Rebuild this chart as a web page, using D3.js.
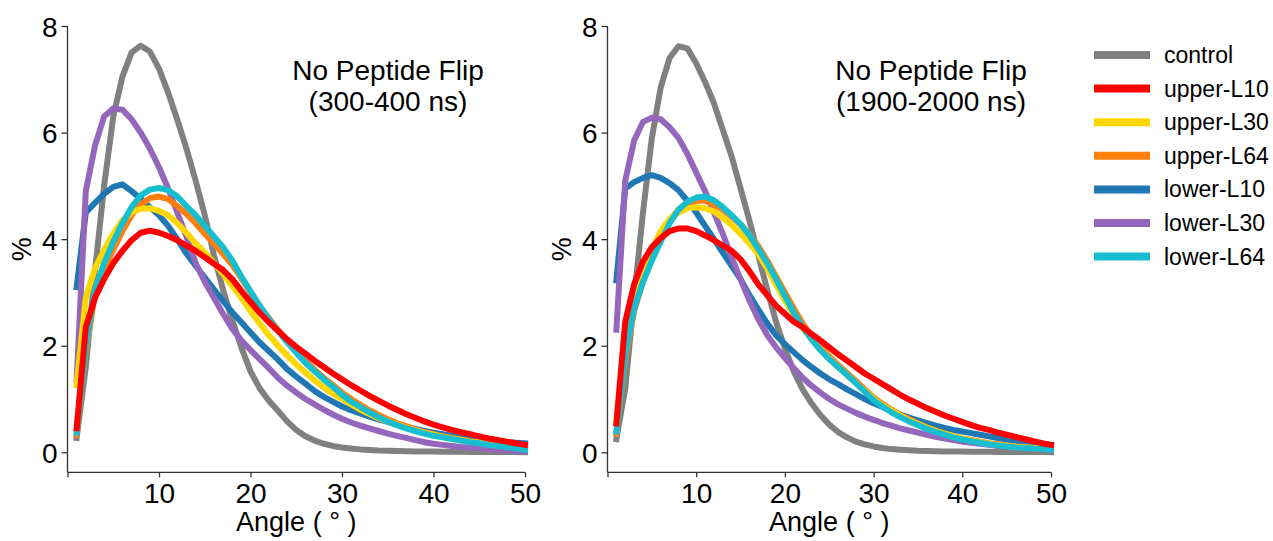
<!DOCTYPE html>
<html><head><meta charset="utf-8">
<script src="https://cdn.jsdelivr.net/npm/d3@7"></script>
<style>
body{margin:0;background:#fff;}
svg{display:block;font-family:"Liberation Sans",Arial,Helvetica,sans-serif;}
</style></head>
<body><svg id="chart" width="1273" height="541"></svg>
<script>
const angles = d3.range(1, 51);
const seriesNames = ["control","upper-L10","upper-L30","upper-L64","lower-L10","lower-L30","lower-L64"];
const seriesColors = ["#808080","#ff0000","#ffd700","#ff7f0e","#1f77b4","#9467bd","#17becf"];
const xTicks = [0,10,20,30,40,50];
const xTickLabels = ["","10","20","30","40","50"];
const yTicks = [0,2,4,6,8];
const panelTitles = [["No Peptide Flip","(300-400 ns)"],["No Peptide Flip","(1900-2000 ns)"]];

// Left panel (300-400 ns)
const controlA = [0.27,1.6,3.4,5.0,6.3,7.05,7.5,7.63,7.52,7.2,6.75,6.24,5.7,5.1,4.45,3.7,3.05,2.48,1.97,1.52,1.2,0.97,0.78,0.58,0.42,0.3,0.22,0.16,0.12,0.09,0.07,0.055,0.045,0.035,0.03,0.025,0.02,0.017,0.015,0.013,0.011,0.01,0.009,0.008,0.007,0.006,0.005,0.004,0.004,0.003];
const upperL10A = [0.45,2.35,2.9,3.25,3.55,3.78,3.98,4.12,4.16,4.12,4.06,3.98,3.88,3.78,3.66,3.54,3.42,3.25,3.03,2.82,2.62,2.44,2.28,2.12,1.98,1.85,1.72,1.6,1.48,1.37,1.26,1.16,1.06,0.97,0.88,0.8,0.72,0.65,0.58,0.52,0.47,0.42,0.38,0.34,0.3,0.26,0.23,0.2,0.17,0.14];
const upperL30A = [1.26,2.9,3.45,3.8,4.1,4.35,4.5,4.57,4.58,4.53,4.45,4.3,4.12,3.92,3.75,3.55,3.35,3.12,2.9,2.65,2.42,2.2,2.0,1.82,1.65,1.5,1.35,1.22,1.1,1.0,0.9,0.8,0.72,0.64,0.58,0.52,0.46,0.41,0.37,0.33,0.29,0.26,0.23,0.2,0.18,0.16,0.14,0.12,0.11,0.1];
const upperL64A = [0.33,1.9,2.95,3.45,3.8,4.15,4.45,4.65,4.77,4.8,4.75,4.62,4.47,4.3,4.1,3.92,3.72,3.52,3.27,3.0,2.75,2.52,2.3,2.1,1.9,1.72,1.55,1.4,1.26,1.12,1.0,0.89,0.79,0.7,0.62,0.55,0.49,0.43,0.38,0.34,0.3,0.27,0.24,0.21,0.19,0.16,0.14,0.12,0.1,0.08];
const lowerL10A = [3.1,4.5,4.68,4.85,4.98,5.03,4.9,4.76,4.6,4.45,4.25,4.0,3.73,3.5,3.28,3.06,2.84,2.63,2.44,2.25,2.06,1.9,1.74,1.56,1.42,1.29,1.15,1.04,0.95,0.86,0.79,0.73,0.67,0.62,0.57,0.52,0.48,0.44,0.4,0.37,0.34,0.31,0.28,0.26,0.23,0.22,0.2,0.19,0.18,0.17];
const lowerL30A = [1.36,4.9,5.75,6.3,6.45,6.43,6.25,6.0,5.7,5.35,4.95,4.5,4.05,3.55,3.2,2.9,2.6,2.32,2.1,1.92,1.75,1.58,1.4,1.25,1.12,1.0,0.9,0.8,0.71,0.63,0.56,0.5,0.45,0.4,0.35,0.31,0.27,0.23,0.19,0.16,0.14,0.12,0.1,0.085,0.07,0.06,0.05,0.04,0.03,0.02];
const lowerL64A = [0.37,2.0,3.05,3.55,3.95,4.3,4.6,4.82,4.93,4.96,4.92,4.8,4.62,4.45,4.25,4.05,3.85,3.6,3.3,3.02,2.75,2.5,2.28,2.07,1.87,1.68,1.52,1.37,1.23,1.08,0.95,0.85,0.75,0.66,0.58,0.51,0.45,0.4,0.35,0.31,0.28,0.25,0.22,0.19,0.17,0.14,0.12,0.1,0.07,0.05];

// Right panel (1900-2000 ns)
const controlB = [0.25,1.2,2.9,4.5,5.9,6.85,7.4,7.62,7.58,7.3,6.95,6.55,6.05,5.55,4.95,4.35,3.7,3.05,2.45,1.95,1.52,1.18,0.92,0.7,0.52,0.38,0.28,0.2,0.15,0.11,0.08,0.06,0.05,0.04,0.03,0.025,0.02,0.017,0.015,0.013,0.011,0.01,0.009,0.008,0.007,0.006,0.005,0.004,0.004,0.003];
const upperL10B = [0.54,2.45,3.15,3.58,3.85,4.02,4.15,4.2,4.2,4.15,4.07,3.98,3.88,3.78,3.62,3.4,3.15,2.95,2.75,2.6,2.45,2.35,2.22,2.1,1.97,1.84,1.72,1.6,1.48,1.38,1.28,1.18,1.08,0.99,0.91,0.83,0.76,0.69,0.63,0.57,0.51,0.46,0.42,0.37,0.33,0.29,0.25,0.21,0.17,0.14];
const upperL30B = [0.6,2.0,2.8,3.35,3.8,4.15,4.38,4.5,4.58,4.6,4.58,4.52,4.4,4.27,4.1,3.92,3.72,3.45,3.15,2.85,2.58,2.33,2.12,1.93,1.76,1.6,1.45,1.3,1.15,1.0,0.88,0.78,0.69,0.6,0.53,0.46,0.4,0.35,0.3,0.26,0.22,0.19,0.16,0.14,0.12,0.1,0.09,0.08,0.07,0.06];
const upperL64B = [0.35,1.75,2.65,3.2,3.65,4.05,4.35,4.55,4.67,4.72,4.72,4.65,4.55,4.42,4.28,4.08,3.87,3.6,3.3,3.0,2.7,2.42,2.18,1.98,1.8,1.64,1.49,1.34,1.18,1.03,0.91,0.8,0.7,0.62,0.54,0.47,0.41,0.35,0.3,0.26,0.23,0.2,0.17,0.15,0.13,0.11,0.1,0.08,0.07,0.06];
const lowerL10B = [3.23,4.95,5.07,5.15,5.2,5.15,5.05,4.92,4.72,4.5,4.25,4.0,3.75,3.5,3.25,2.95,2.68,2.42,2.2,2.03,1.88,1.73,1.6,1.48,1.37,1.28,1.18,1.09,1.0,0.92,0.85,0.78,0.71,0.65,0.6,0.55,0.5,0.46,0.42,0.39,0.36,0.33,0.3,0.27,0.24,0.22,0.2,0.18,0.16,0.14];
const lowerL30B = [2.3,5.1,5.85,6.2,6.28,6.25,6.1,5.9,5.6,5.25,4.9,4.5,4.1,3.65,3.25,2.85,2.5,2.2,1.97,1.77,1.58,1.4,1.25,1.12,1.0,0.9,0.82,0.74,0.67,0.61,0.55,0.5,0.45,0.41,0.37,0.33,0.29,0.26,0.23,0.2,0.18,0.16,0.14,0.12,0.11,0.1,0.08,0.07,0.06,0.05];
const lowerL64B = [0.39,1.85,2.7,3.2,3.6,3.95,4.3,4.55,4.7,4.78,4.8,4.73,4.6,4.45,4.28,4.07,3.82,3.55,3.25,2.93,2.62,2.35,2.12,1.92,1.75,1.6,1.45,1.3,1.14,0.98,0.86,0.75,0.66,0.58,0.51,0.44,0.38,0.33,0.28,0.24,0.21,0.18,0.15,0.13,0.11,0.09,0.08,0.07,0.06,0.05];

const panelData = [
  [controlA, upperL10A, upperL30A, upperL64A, lowerL10A, lowerL30A, lowerL64A],
  [controlB, upperL10B, upperL30B, upperL64B, lowerL10B, lowerL30B, lowerL64B]
];

const svg = d3.select("#chart");
const panels = [
  {x0: 67.5, x1: 525, titleX: 388},
  {x0: 607.5, x1: 1051, titleX: 931}
];
const yTop = 26, yBot = 472.3;
const drawOrder = [0, 4, 5, 3, 2, 6, 1];
const axisColor = "#333";

panels.forEach((p, pi) => {
  const x = d3.scaleLinear().domain([0, 50]).range([p.x0, p.x1]);
  const y = d3.scaleLinear().domain([-0.375, 8]).range([yBot, yTop]);
  const g = svg.append("g");

  const xa = g.append("g").attr("transform", `translate(0,${yBot})`)
    .call(d3.axisBottom(x).tickValues(xTicks).tickFormat((d, i) => xTickLabels[i]).tickSize(5).tickPadding(6));
  const ya = g.append("g").attr("transform", `translate(${p.x0},0)`)
    .call(d3.axisLeft(y).tickValues(yTicks).tickFormat(d3.format("d")).tickSize(6).tickPadding(4));
  [xa, ya].forEach(a => {
    a.select(".domain").attr("stroke", axisColor).attr("stroke-width", 1.3);
    a.selectAll(".tick line").attr("stroke", axisColor).attr("stroke-width", 1.3);
    a.selectAll(".tick text").attr("fill", "#000").style("font-size", "28px")
      .style("font-family", '"Liberation Sans",Arial,sans-serif');
  });
  ya.select(".domain").attr("d", `M0,${yTop}V${yBot}`);
  xa.select(".domain").attr("d", `M${p.x0},0H${p.x1}`);
  ya.selectAll(".tick text").attr("dy", "0.36em");

  const line = d3.line().x((d, i) => x(angles[i])).y(d => y(d));
  drawOrder.forEach(si => {
    g.append("path").datum(panelData[pi][si])
      .attr("d", line)
      .attr("fill", "none")
      .attr("stroke", seriesColors[si])
      .attr("stroke-width", 6)
      .attr("stroke-linejoin", "round")
      .attr("stroke-linecap", "square");
  });

  g.append("text").attr("x", p.titleX).attr("y", 80).attr("text-anchor", "middle")
    .style("font-size", "28px").text(panelTitles[pi][0]);
  g.append("text").attr("x", p.titleX).attr("y", 111).attr("text-anchor", "middle")
    .style("font-size", "28px").text(panelTitles[pi][1]);

  g.append("text").attr("x", (p.x0 + p.x1) / 2).attr("y", 531).attr("text-anchor", "middle")
    .style("font-size", "27px").text("Angle ( ° )");
  g.append("text").attr("transform", `translate(${p.x0 - 37},${(yTop + yBot) / 2}) rotate(-90)`)
    .attr("text-anchor", "middle").style("font-size", "27px").text("%");
});

const lg = svg.append("g");
seriesNames.forEach((n, i) => {
  const cy = 55 + i * 33.6;
  lg.append("line").attr("x1", 1094).attr("x2", 1150).attr("y1", cy).attr("y2", cy)
    .attr("stroke", seriesColors[i]).attr("stroke-width", 8);
  lg.append("text").attr("x", 1164).attr("y", cy + 8).style("font-size", "23px").text(n);
});
</script></body></html>
